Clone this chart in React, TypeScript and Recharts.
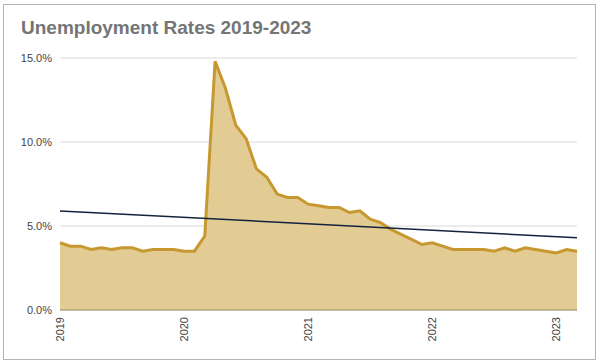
import { Area, CartesianGrid, ComposedChart, ReferenceLine, XAxis, YAxis } from 'recharts'

const months = [
	'2019-01', '2019-02', '2019-03', '2019-04', '2019-05', '2019-06', '2019-07', '2019-08', '2019-09', '2019-10', '2019-11', '2019-12',
	'2020-01', '2020-02', '2020-03', '2020-04', '2020-05', '2020-06', '2020-07', '2020-08', '2020-09', '2020-10', '2020-11', '2020-12',
	'2021-01', '2021-02', '2021-03', '2021-04', '2021-05', '2021-06', '2021-07', '2021-08', '2021-09', '2021-10', '2021-11', '2021-12',
	'2022-01', '2022-02', '2022-03', '2022-04', '2022-05', '2022-06', '2022-07', '2022-08', '2022-09', '2022-10', '2022-11', '2022-12',
	'2023-01', '2023-02', '2023-03',
]

const rates = [
	4.0, 3.8, 3.8, 3.6, 3.7, 3.6, 3.7, 3.7, 3.5, 3.6, 3.6, 3.6,
	3.5, 3.5, 4.4, 14.8, 13.2, 11.0, 10.2, 8.4, 7.9, 6.9, 6.7, 6.7,
	6.3, 6.2, 6.1, 6.1, 5.8, 5.9, 5.4, 5.2, 4.8, 4.5, 4.2, 3.9,
	4.0, 3.8, 3.6, 3.6, 3.6, 3.6, 3.5, 3.7, 3.5, 3.7, 3.6, 3.5,
	3.4, 3.6, 3.5,
]

const yearTicks = ['2019-01', '2020-01', '2021-01', '2022-01', '2023-01']
const yTicks = [0, 5, 10, 15]

// trend line end points (start / end of range)
const trendStart = 5.9
const trendEnd = 4.3

const data = months.map((m, i) => ({ month: m, rate: rates[i] }))

const font = "Arial, 'Liberation Sans', sans-serif"

function YearTick(props: any) {
	const { x, y, payload } = props
	return (
		<text
			x={x}
			y={y}
			transform={`rotate(-90 ${x} ${y})`}
			textAnchor='end'
			dy='0.35em'
			fontSize={11}
			fill='#444'
			fontFamily={font}
		>
			{String(payload.value).slice(0, 4)}
		</text>
	)
}

export default function App() {
	return (
		<div
			style={{
				position: 'absolute',
				left: 0,
				top: 0,
				width: 600,
				height: 364,
				background: '#fff',
				fontFamily: font,
			}}
		>
			<div
				style={{
					position: 'absolute',
					left: 3,
					top: 4,
					width: 591,
					height: 354,
					border: '1px solid #b4b4b4',
				}}
			/>
			<div
				style={{
					position: 'absolute',
					left: 21,
					top: 17,
					fontSize: 19,
					fontWeight: 'bold',
					color: '#757575',
				}}
			>
				Unemployment Rates 2019-2023
			</div>
			<div style={{ position: 'absolute', left: 0, top: 0 }}>
				<ComposedChart
					width={600}
					height={364}
					data={data}
					margin={{ top: 58, right: 23, bottom: 0, left: 0 }}
				>
					<CartesianGrid vertical={false} stroke='#d9d9d9' />
					<XAxis
						dataKey='month'
						ticks={yearTicks}
						interval={0}
						tick={<YearTick />}
						tickLine={false}
						tickMargin={1}
						height={54}
						stroke='#9c8b62'
						padding={{ left: 0, right: 0 }}
					/>
					<YAxis
						domain={[0, 15]}
						ticks={yTicks}
						width={60}
						axisLine={false}
						tickLine={false}
						tickFormatter={(v: number) => `${v.toFixed(1)}%`}
						tick={{ fontSize: 11, fill: '#444', fontFamily: font }}
					/>
					<Area
						type='linear'
						dataKey='rate'
						stroke='#c6982f'
						strokeWidth={3}
						fill='#e3cb94'
						fillOpacity={1}
						isAnimationActive={false}
						dot={false}
						activeDot={false}
					/>
					<ReferenceLine
						segment={[
							{ x: months[0], y: trendStart },
							{ x: months[months.length - 1], y: trendEnd },
						]}
						stroke='#13233f'
						strokeWidth={1.5}
					/>
				</ComposedChart>
			</div>
		</div>
	)
}
